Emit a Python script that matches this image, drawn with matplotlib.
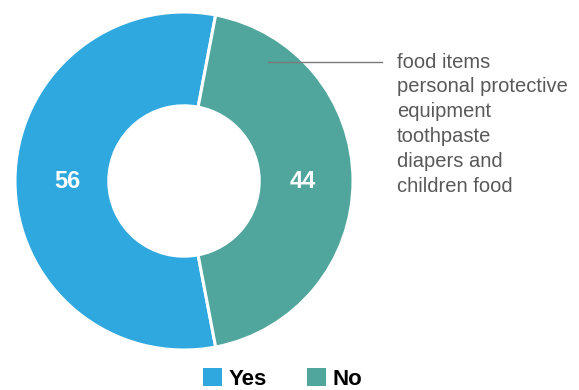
import matplotlib.pyplot as plt
from matplotlib.patches import Patch

plt.rcParams['font.family'] = ['Liberation Sans', 'DejaVu Sans']

labels = ['Yes', 'No']
values = [56, 44]
colors = ['#2FA8DF', '#50A69C']
note_lines = ['food items', 'personal protective', 'equipment',
              'toothpaste', 'diapers and', 'children food']

W, H = 579, 390
fig = plt.figure(figsize=(W / 100, H / 100), dpi=100)
ax = fig.add_axes([0, 0, 1, 1])


def py(y):
    # pixel row (from top) to data y
    return H - y


cx, cy, r = 184, py(181), 169
# 'No' wedge sits on the right, centered on the horizontal
start = values[1] / 100 * 180
wedges, _ = ax.pie(values, colors=colors, startangle=start, counterclock=True,
                   center=(cx, cy), radius=r, frame=True,
                   wedgeprops=dict(width=r * 0.555, edgecolor='white', linewidth=2.2))
ax.set_xlim(0, W)
ax.set_ylim(0, H)
ax.set_aspect('equal')
ax.axis('off')

# value labels
ax.text(67, py(181), str(values[0]), color='white', fontsize=17,
        fontweight='bold', ha='center', va='center')
ax.text(303, py(181), str(values[1]), color='white', fontsize=17,
        fontweight='bold', ha='center', va='center')

# callout
ax.plot([268, 382], [py(62), py(62)], color='#7a7a7a', linewidth=1)
for i, line in enumerate(note_lines):
    ax.text(397, py(62 + i * 24.8), line, color='#595959', fontsize=14.5,
            ha='left', va='center')

handles = [Patch(facecolor=c, edgecolor='none') for c in colors]
ax.legend(handles, labels, loc='center', bbox_to_anchor=(282.5 / W, (H - 379) / H),
          ncol=2, frameon=False, handlelength=0.85, handleheight=0.85,
          handletextpad=0.3, columnspacing=1.8, borderpad=0,
          prop={'weight': 'bold', 'size': 16})

fig.savefig('out.png', dpi=100)
